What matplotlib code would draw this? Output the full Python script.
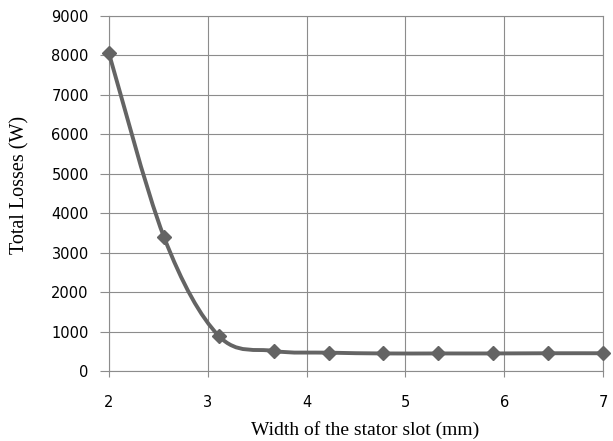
import matplotlib
matplotlib.use("Agg")
import matplotlib.pyplot as plt
from matplotlib.path import Path
from matplotlib.patches import PathPatch

# slot width (mm) and total losses (W)
slot_width = [2.0, 2.556, 3.111, 3.667, 4.222, 4.778, 5.333, 5.889, 6.444, 7.0]
total_losses = [8050, 3400, 890, 510, 465, 445, 445, 445, 450, 450]

x_ticks = [2, 3, 4, 5, 6, 7]
y_ticks = [0, 1000, 2000, 3000, 4000, 5000, 6000, 7000, 8000, 9000]

LINE = "#646464"
GRID = "#8c8c8c"


def smooth_path(xs, ys):
    # Excel-like smoothed line: cubic Bezier segments with Catmull-Rom control points
    pts = list(zip(xs, ys))
    n = len(pts)
    verts = [pts[0]]
    codes = [Path.MOVETO]
    for i in range(n - 1):
        p0 = pts[i - 1] if i > 0 else pts[i]
        p1 = pts[i]
        p2 = pts[i + 1]
        p3 = pts[i + 2] if i + 2 < n else pts[i + 1]
        c1 = (p1[0] + (p2[0] - p0[0]) / 6, p1[1] + (p2[1] - p0[1]) / 6)
        c2 = (p2[0] - (p3[0] - p1[0]) / 6, p2[1] - (p3[1] - p1[1]) / 6)
        verts += [c1, c2, p2]
        codes += [Path.CURVE4] * 3
    return Path(verts, codes)


fig = plt.figure(figsize=(6.13, 4.41), dpi=100)
ax = fig.add_axes([109 / 613, 1 - 371 / 441, 494 / 613, 355 / 441])

ax.set_xlim(2, 7)
ax.set_ylim(0, 9000)
ax.set_xticks(x_ticks)
ax.set_yticks(y_ticks)
ax.grid(True, color=GRID, linewidth=0.8)
ax.set_axisbelow(True)

for side, spine in ax.spines.items():
    spine.set_color(GRID)
    spine.set_linewidth(0.8)

ax.add_patch(PathPatch(smooth_path(slot_width, total_losses), facecolor="none",
                       edgecolor=LINE, linewidth=2.8, capstyle="round", zorder=3))
ax.plot(slot_width, total_losses, linestyle="none", marker="D", markersize=7,
        color=LINE, zorder=4, clip_on=False)

ax.tick_params(axis="y", direction="out", length=6.5, width=0.8, color=GRID,
               labelsize=10.5, pad=8)
ax.tick_params(axis="x", direction="out", length=4.3, width=0.8, color=GRID,
               labelsize=10.5, pad=13)

ax.set_xlabel("Width of the stator slot (mm)", family="Liberation Serif",
              fontsize=14)
ax.set_ylabel("Total Losses (W)", family="Liberation Serif", fontsize=14.5)
ax.xaxis.set_label_coords(0.518, -0.14)
ax.yaxis.set_label_coords(-0.16, 0.524)

fig.savefig("out.png", dpi=100)
